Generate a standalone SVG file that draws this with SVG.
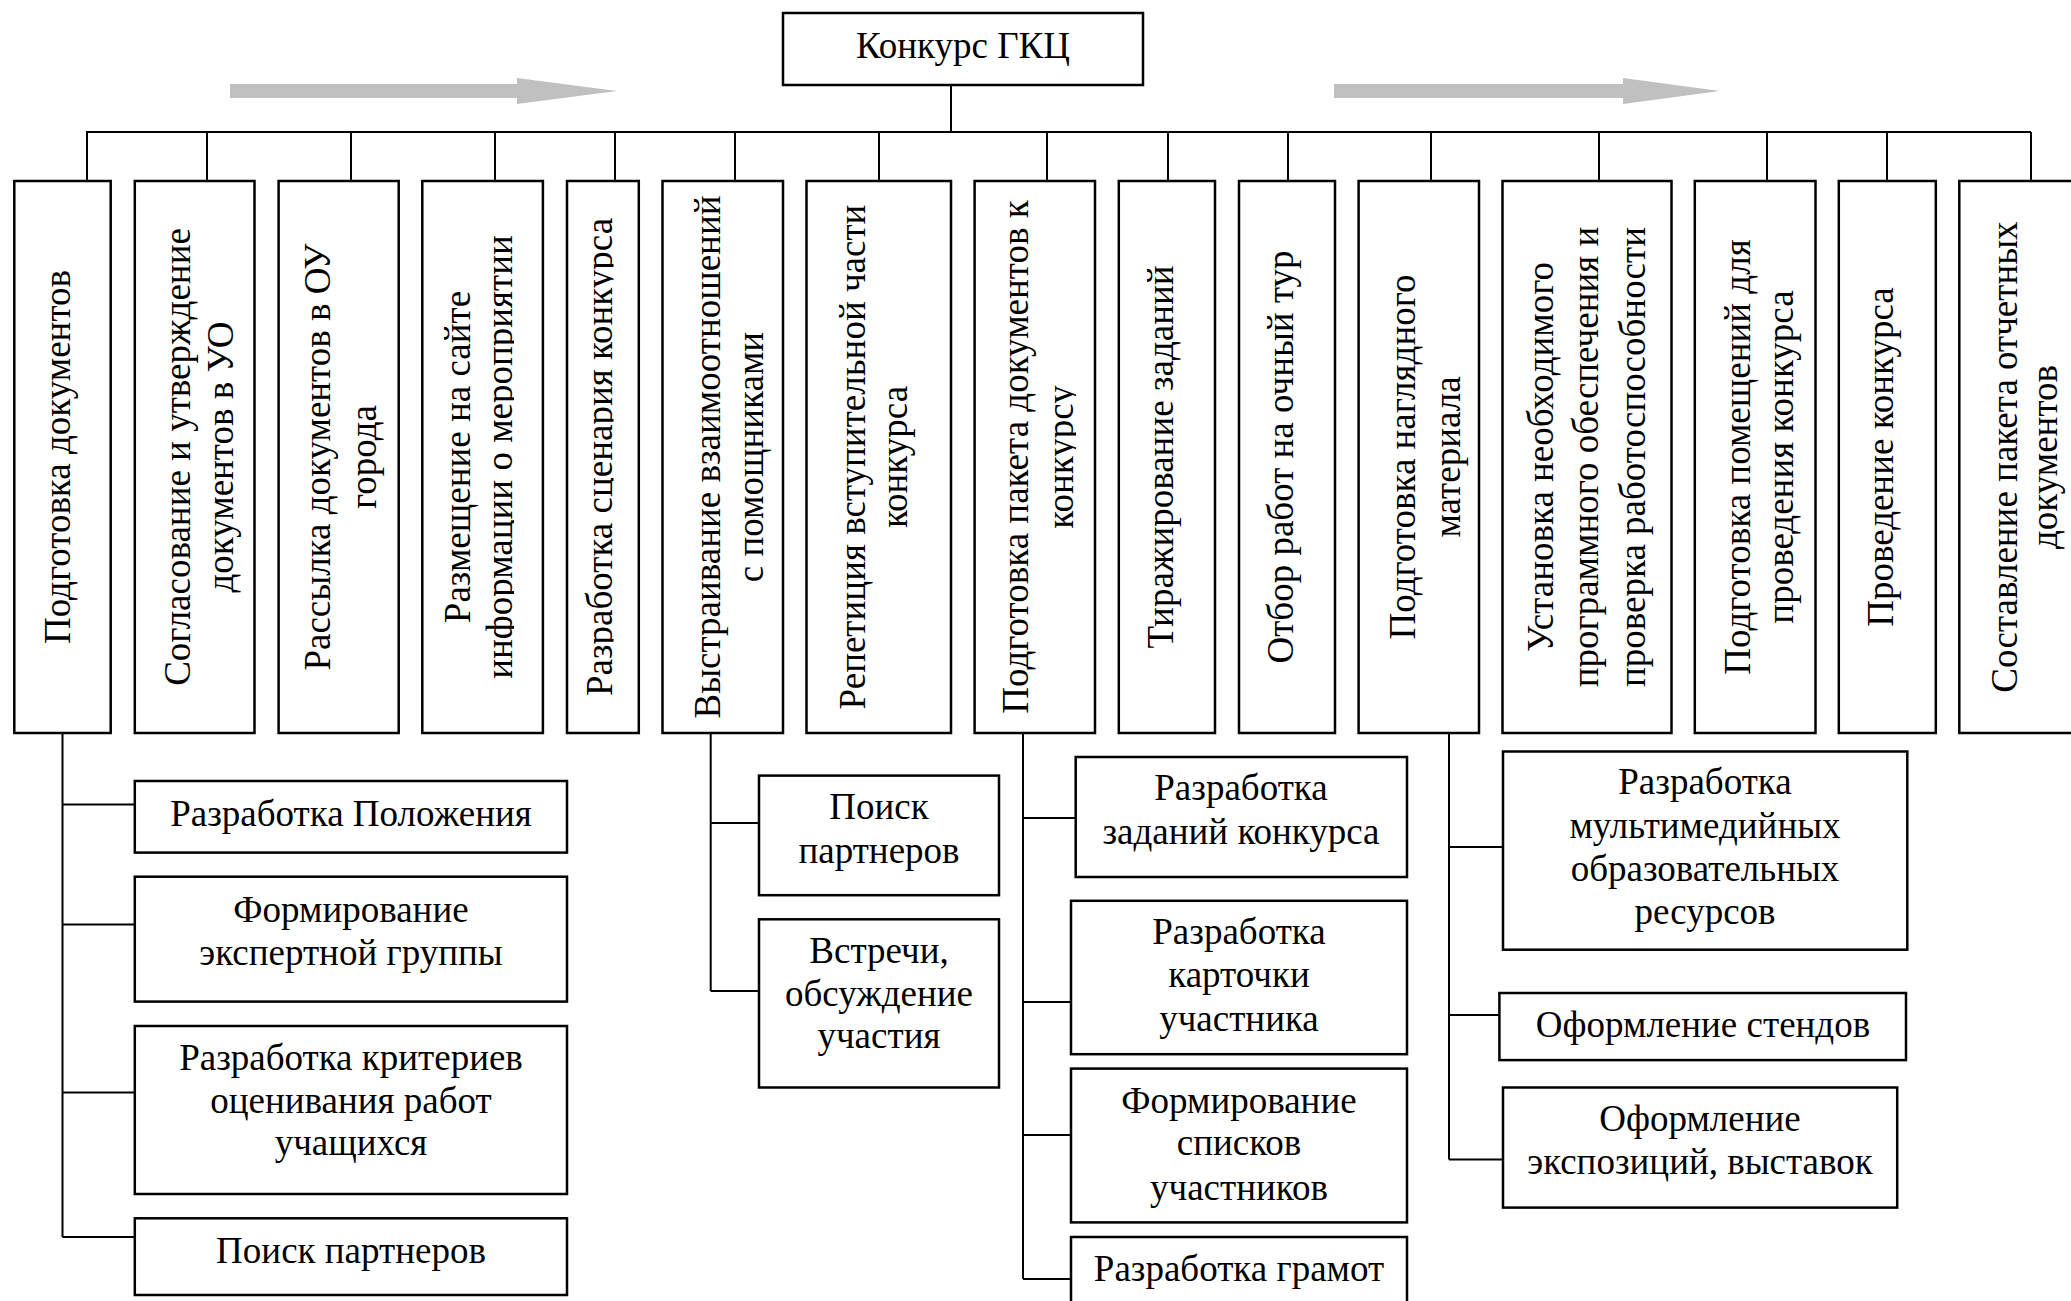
<svg xmlns="http://www.w3.org/2000/svg" width="2071" height="1301" viewBox="0 0 2071 1301">
<style>
  .box { fill: #ffffff; stroke: #000000; stroke-width: 2.5; }
  .ln { fill: none; stroke: #000000; stroke-width: 2; }
  .t { font-family: "Liberation Serif", "Times New Roman", serif; font-size: 37px; fill: #000000; text-anchor: middle; }
  .arr { fill: #c0c0c0; stroke: none; }
</style>
<defs>
  <clipPath id="clip4"><rect x="420" y="175" width="94" height="565"/></clipPath>
  <clipPath id="clip5"><rect x="560" y="175" width="53.5" height="565"/></clipPath>
  <clipPath id="clip8"><rect x="970" y="175" width="106" height="565"/></clipPath>
</defs>
<rect width="2071" height="1301" fill="#ffffff"/>

<g id="flow-arrows">
  <polygon class="arr" points="230,84 517,84 517,78 617,91 517,104 517,98 230,98"/>
  <polygon class="arr" points="1334,84 1623,84 1623,78 1720,91 1623,104 1623,98 1334,98"/>
</g>

<g id="connectors">
  <path class="ln" d="M951,85 V132 M86,132 H2031"/>
  <path class="ln" d="M87,132 V181 M207,132 V181 M351,132 V181 M495,132 V181 M615,132 V181 M735,132 V181 M879,132 V181 M1047,132 V181 M1168,132 V181 M1288,132 V181 M1431,132 V181 M1599,132 V181 M1767,132 V181 M1887,132 V181 M2031,132 V181"/>
  <path class="ln" d="M62.5,733 V1237 M62.5,804.5 H135 M62.5,924.5 H135 M62.5,1092.5 H135 M62.5,1237 H135"/>
  <path class="ln" d="M710.7,733 V991 M710.7,823 H759 M710.7,991 H759"/>
  <path class="ln" d="M1023,733 V1279 M1023,818 H1076 M1023,1002 H1071 M1023,1135 H1071 M1023,1279 H1071"/>
  <path class="ln" d="M1449,733 V1159.5 M1449,847 H1503 M1449,1015 H1499 M1449,1159.5 H1503"/>
</g>

<g id="root">
  <rect class="box" x="783" y="13" width="360" height="72"/>
  <text class="t" x="963" y="58">Конкурс ГКЦ</text>
</g>

<g id="n1">
  <rect class="box" x="14.3" y="181" width="96.4" height="552"/>
  <text class="t" transform="translate(70,457) rotate(-90)">Подготовка документов</text>
</g>
<g id="n2">
  <rect class="box" x="134.8" y="181" width="119.7" height="552"/>
  <text class="t" transform="translate(190,457) rotate(-90)"><tspan x="0" y="0">Согласование и утверждение</tspan><tspan x="0" y="43">документов в УО</tspan></text>
</g>
<g id="n3">
  <rect class="box" x="278.6" y="181" width="120.1" height="552"/>
  <text class="t" transform="translate(330,457) rotate(-90)"><tspan x="0" y="0">Рассылка документов в ОУ</tspan><tspan x="0" y="46">города</tspan></text>
</g>
<g id="n4">
  <rect class="box" x="422.3" y="181" width="120.6" height="552"/>
  <g clip-path="url(#clip4)">
    <text class="t" transform="translate(470,457) rotate(-90)"><tspan x="0" y="0">Размещение на сайте</tspan><tspan x="0" y="42">информации о мероприятии</tspan></text>
  </g>
</g>
<g id="n5">
  <rect class="box" x="567" y="181" width="71.8" height="552"/>
  <g clip-path="url(#clip5)">
    <text class="t" transform="translate(611.7,457) rotate(-90)">Разработка сценария конкурса</text>
  </g>
</g>
<g id="n6">
  <rect class="box" x="662.5" y="181" width="120.5" height="552"/>
  <text class="t" transform="translate(720,457) rotate(-90)"><tspan x="0" y="0">Выстраивание взаимоотношений</tspan><tspan x="0" y="43">с помощниками</tspan></text>
</g>
<g id="n7">
  <rect class="box" x="806.5" y="181" width="144.5" height="552"/>
  <text class="t" transform="translate(865,457) rotate(-90)"><tspan x="0" y="0">Репетиция вступительной части</tspan><tspan x="0" y="42">конкурса</tspan></text>
</g>
<g id="n8">
  <rect class="box" x="974.6" y="181" width="120.4" height="552"/>
  <g clip-path="url(#clip8)">
    <text class="t" transform="translate(1028,457) rotate(-90)"><tspan x="0" y="0">Подготовка пакета документов к</tspan><tspan x="0" y="45">конкурсу</tspan></text>
  </g>
</g>
<g id="n9">
  <rect class="box" x="1118.8" y="181" width="96.2" height="552"/>
  <text class="t" transform="translate(1173,457) rotate(-90)">Тиражирование заданий</text>
</g>
<g id="n10">
  <rect class="box" x="1239" y="181" width="96" height="552"/>
  <text class="t" transform="translate(1293,457) rotate(-90)">Отбор работ на очный тур</text>
</g>
<g id="n11">
  <rect class="box" x="1358.6" y="181" width="120.4" height="552"/>
  <text class="t" transform="translate(1415,457) rotate(-90)"><tspan x="0" y="0">Подготовка наглядного</tspan><tspan x="0" y="45">материала</tspan></text>
</g>
<g id="n12">
  <rect class="box" x="1502.5" y="181" width="169" height="552"/>
  <text class="t" transform="translate(1553,457) rotate(-90)"><tspan x="0" y="0">Установка необходимого</tspan><tspan x="0" y="45">программного обеспечения и</tspan><tspan x="0" y="92">проверка работоспособности</tspan></text>
</g>
<g id="n13">
  <rect class="box" x="1694.8" y="181" width="120.7" height="552"/>
  <text class="t" transform="translate(1750,457) rotate(-90)"><tspan x="0" y="0">Подготовка помещений для</tspan><tspan x="0" y="43">проведения конкурса</tspan></text>
</g>
<g id="n14">
  <rect class="box" x="1838.8" y="181" width="97" height="552"/>
  <text class="t" transform="translate(1893,457) rotate(-90)">Проведение конкурса</text>
</g>
<g id="n15">
  <rect class="box" x="1959.3" y="181" width="130" height="552"/>
  <text class="t" transform="translate(2017,457) rotate(-90)"><tspan x="0" y="0">Составление пакета отчетных</tspan><tspan x="0" y="40">документов</tspan></text>
</g>

<g id="s1a">
  <rect class="box" x="134.8" y="781" width="432.2" height="71.6"/>
  <text class="t" x="351" y="826">Разработка Положения</text>
</g>
<g id="s1b">
  <rect class="box" x="134.8" y="876.7" width="432.2" height="124.9"/>
  <text class="t"><tspan x="351" y="922">Формирование</tspan><tspan x="351" y="964.5">экспертной группы</tspan></text>
</g>
<g id="s1c">
  <rect class="box" x="134.8" y="1026" width="432.2" height="168"/>
  <text class="t"><tspan x="351" y="1070">Разработка критериев</tspan><tspan x="351" y="1112.7">оценивания работ</tspan><tspan x="351" y="1155.3">учащихся</tspan></text>
</g>
<g id="s1d">
  <rect class="box" x="134.8" y="1218.3" width="432.2" height="76.7"/>
  <text class="t" x="351" y="1262.8">Поиск партнеров</text>
</g>

<g id="s6a">
  <rect class="box" x="759" y="775.6" width="240" height="119.6"/>
  <text class="t"><tspan x="879" y="819.3">Поиск</tspan><tspan x="879" y="862.6">партнеров</tspan></text>
</g>
<g id="s6b">
  <rect class="box" x="759" y="919.3" width="240" height="168.2"/>
  <text class="t"><tspan x="879" y="962.7">Встречи,</tspan><tspan x="879" y="1006">обсуждение</tspan><tspan x="879" y="1048">участия</tspan></text>
</g>

<g id="s8a">
  <rect class="box" x="1075.7" y="757" width="331.3" height="120"/>
  <text class="t"><tspan x="1241" y="799.7">Разработка</tspan><tspan x="1241" y="844.1">заданий конкурса</tspan></text>
</g>
<g id="s8b">
  <rect class="box" x="1071" y="900.8" width="336" height="153.4"/>
  <text class="t"><tspan x="1239" y="944.2">Разработка</tspan><tspan x="1239" y="986.8">карточки</tspan><tspan x="1239" y="1031.2">участника</tspan></text>
</g>
<g id="s8c">
  <rect class="box" x="1071" y="1068.6" width="336" height="153.8"/>
  <text class="t"><tspan x="1239" y="1112.7">Формирование</tspan><tspan x="1239" y="1155.3">списков</tspan><tspan x="1239" y="1199.8">участников</tspan></text>
</g>
<g id="s8d">
  <rect class="box" x="1071" y="1237" width="336" height="75"/>
  <text class="t" x="1239" y="1281.3">Разработка грамот</text>
</g>

<g id="s11a">
  <rect class="box" x="1503" y="751.5" width="404.3" height="198.2"/>
  <text class="t"><tspan x="1705" y="794">Разработка</tspan><tspan x="1705" y="837.8">мультимедийных</tspan><tspan x="1705" y="881.2">образовательных</tspan><tspan x="1705" y="923.8">ресурсов</tspan></text>
</g>
<g id="s11b">
  <rect class="box" x="1499.4" y="993" width="406.6" height="67.1"/>
  <text class="t" x="1703" y="1036.8">Оформление стендов</text>
</g>
<g id="s11c">
  <rect class="box" x="1503" y="1087.5" width="394.2" height="120.1"/>
  <text class="t"><tspan x="1700" y="1131.3">Оформление</tspan><tspan x="1700" y="1173.9">экспозиций, выставок</tspan></text>
</g>
</svg>
